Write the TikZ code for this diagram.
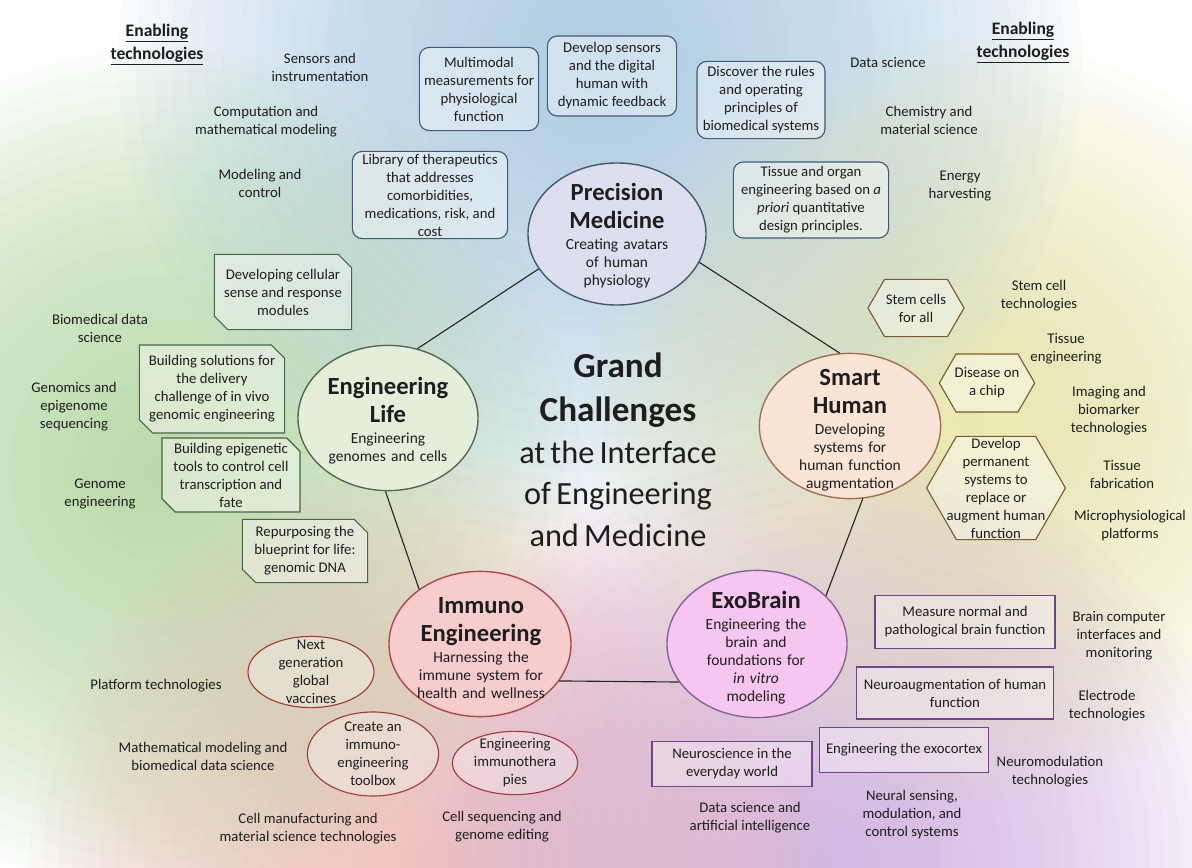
\documentclass[tikz,border=0pt]{standalone}
\usepackage{fontspec}
\setmainfont{Carlito}
\usetikzlibrary{shapes.geometric,shapes.misc,shapes.symbols}

\definecolor{inktext}{RGB}{30,30,30}
\definecolor{pmline}{RGB}{70,88,112}
\definecolor{pmfill}{RGB}{221,223,238}
\definecolor{elline}{RGB}{84,104,84}
\definecolor{elfill}{RGB}{228,238,218}
\definecolor{shline}{RGB}{160,112,80}
\definecolor{shfill}{RGB}{250,228,214}
\definecolor{imline}{RGB}{176,72,72}
\definecolor{imfill}{RGB}{246,204,204}
\definecolor{ebline}{RGB}{130,100,150}
\definecolor{ebfill}{RGB}{246,198,240}
\definecolor{pmboxline}{RGB}{66,88,118}
\definecolor{elboxline}{RGB}{72,100,72}
\definecolor{shboxline}{RGB}{122,90,48}
\definecolor{imboxline}{RGB}{160,60,60}
\definecolor{ebboxline}{RGB}{104,72,136}
\definecolor{bgblue}{RGB}{166,200,228}
\definecolor{bgyellow}{RGB}{234,232,165}
\definecolor{bggreen}{RGB}{180,216,160}
\definecolor{bgpink}{RGB}{241,187,180}
\definecolor{bglav}{RGB}{207,173,228}

\newcommand\techsize{\fontsize{10.5}{12.8}\selectfont}
\newcommand\subsize{\fontsize{11}{12.8}\selectfont}
\newcommand\headsize{\fontsize{17.5}{20}\selectfont\bfseries}
\newcommand\grandbold{\fontsize{25}{31}\selectfont\bfseries}
\newcommand\grandreg{\fontsize{23}{29.8}\selectfont}

\tikzset{
    tech-text/.style = {align=center, font=\techsize, text=inktext, inner sep=0pt},
    enabling/.style = {align=center, font=\fontsize{12.5}{16.3}\selectfont\bfseries, text=inktext, inner sep=0pt},
    wash/.style = {fill=#1, fill opacity=.055},
    main-ellipse/.style = {ellipse, line width=1pt, inner sep=0pt},
    main-text/.style = {text width=4.2cm, align=center, font=\subsize, text=inktext, inner sep=0pt},
    pm-box/.style = {draw=pmboxline, fill=white, fill opacity=.4, text opacity=1, rounded corners=7pt, line width=.8pt, align=center, font=\techsize, text=inktext, inner sep=1pt},
    el-box/.style = {chamfered rectangle, chamfered rectangle corners={north east,south west}, chamfered rectangle xsep=.22cm, draw=elboxline, fill=white, fill opacity=.4, text opacity=1, line width=.8pt, align=center, font=\techsize, text=inktext, inner sep=0pt},
    sh-hex/.style = {signal, signal to=west and east, signal pointer angle=120, draw=shboxline, fill=white, fill opacity=.4, text opacity=1, line width=.8pt, align=center, font=\techsize, text=inktext, inner ysep=0pt},
    im-oval/.style = {ellipse, draw=imboxline, fill=white, fill opacity=.3, line width=.8pt, inner sep=0pt},
    im-text/.style = {align=center, font=\techsize, text=inktext, inner sep=0pt},
    eb-box/.style = {rectangle, draw=ebboxline, fill=white, fill opacity=.35, text opacity=1, line width=.8pt, align=center, font=\techsize, text=inktext, inner sep=1pt},
    link/.style = {draw=black!85, line width=.8pt},
}

\begin{document}
\begin{tikzpicture}[x=0.025cm, y=-0.025cm]
\useasboundingbox (0,0) rectangle (1192,868);
\fill[white] (0,0) rectangle (1192,868);

% coloured wash behind everything
\foreach \k in {1,...,28} {
    \fill[wash=bggreen] (160,470) circle ({\k*15});
    \fill[wash=bgyellow] (970,420) circle ({\k*13.6});
    \fill[wash=bgblue] (600,60) circle ({\k*17.2});
    \fill[wash=bgpink] (430,860) circle ({\k*14.3});
    \fill[wash=bglav] (820,860) circle ({\k*15});
}

% the five grand challenges
\node[main-ellipse, draw=pmline, fill=pmfill, minimum width=4.45cm, minimum height=3.55cm] (pm) at (617,234) {};
\node[main-ellipse, draw=elline, fill=elfill, minimum width=4.5cm, minimum height=3.63cm] (el) at (388,418) {};
\node[main-ellipse, draw=shline, fill=shfill, minimum width=4.53cm, minimum height=3.63cm] (sh) at (850,426) {};
\node[main-ellipse, draw=imline, fill=imfill, minimum width=4.55cm, minimum height=3.63cm] (im) at (480,644) {};
\node[main-ellipse, draw=ebline, fill=ebfill, minimum width=4.5cm, minimum height=3.68cm] (eb) at (757,644) {};

\draw[link] (el.67) -- (pm.204);
\draw[link] (pm.-19) -- (sh.98);
\draw[link] (sh.-80) -- (eb.35);
\draw[link] (eb.206) -- (im.-25);
\draw[link] (im.138) -- (el.-92);

\node[main-text] (pm-t) at (617,236) {{\headsize Precision\\Medicine\par}\vskip2pt Creating avatars\\of human\\physiology\par};
\node[main-text] (el-t) at (388,421) {{\headsize Engineering\\Life\par}\vskip2pt Engineering\\genomes and cells\par};
\node[main-text] (sh-t) at (850,430) {{\headsize Smart\\Human\par}\vskip2pt Developing\\systems for\\human function\\augmentation\par};
\node[main-text] (im-t) at (481,648) {{\headsize Immuno\\Engineering\par}\vskip2pt Harnessing the\\immune system for\\health and wellness\par};
\node[main-text] (eb-t) at (756,648) {{\headsize ExoBrain\par}\vskip2pt Engineering the\\brain and\\foundations for\\\textit{in vitro}\\modeling\par};

\node[main-text, text width=6cm] (grand) at (618,450) {{\grandbold Grand\\Challenges\par}{\grandreg at the Interface\\of Engineering\\and Medicine\par}};

% Precision Medicine
\node[pm-box, minimum width=2.98cm, minimum height=2.08cm] (multimodal) at (479,89) {Multimodal\\measurements for\\physiological\\function};
\node[pm-box, minimum width=3.23cm, minimum height=2cm] (digital-human) at (612,76) {Develop sensors\\and the digital\\human with\\dynamic feedback};
\node[pm-box, minimum width=3.2cm, minimum height=1.93cm] (rules) at (761,100) {Discover the rules\\and operating\\principles of\\biomedical systems};
\node[pm-box, minimum width=3.88cm, minimum height=2.18cm] (library) at (430,195) {Library of therapeutics\\that addresses\\comorbidities,\\medications, risk, and\\cost};
\node[pm-box, minimum width=3.88cm, minimum height=1.9cm] (tissue-organ) at (811,200) {Tissue and organ\\engineering based on \textit{a}\\\textit{priori} quantitative\\design principles.};

% Engineering Life
\node[el-box, minimum width=3.43cm, minimum height=1.88cm] (sense) at (283,292) {Developing cellular\\sense and response\\modules};
\node[el-box, minimum width=3.63cm, minimum height=2.2cm] (delivery) at (212,389) {Building solutions for\\the delivery\\challenge of in vivo\\genomic engineering};
\node[el-box, minimum width=3.45cm, minimum height=1.85cm] (epigenetic) at (231,475) {Building epigenetic\\tools to control cell\\transcription and\\fate};
\node[el-box, minimum width=3.13cm, minimum height=1.58cm] (blueprint) at (305,551) {Repurposing the\\blueprint for life:\\genomic DNA};

% Smart Human
\node[sh-hex, minimum height=1.43cm, inner xsep=1pt] (stem-cells) at (916,308) {Stem cells\\for all};
\node[sh-hex, minimum height=1.45cm, inner xsep=-1pt] (chip) at (987,383) {Disease on\\a chip};
\node[sh-hex, minimum height=2.58cm, inner xsep=-7pt] (permanent) at (996,488) {Develop\\permanent\\systems to\\replace or\\augment human\\function};

% Immuno Engineering
\node[im-oval, minimum width=3.15cm, minimum height=1.78cm] (vaccines) at (311,672) {};
\node[im-text] (vaccines-t) at (vaccines) {Next\\generation\\global\\vaccines};
\node[im-oval, minimum width=3.28cm, minimum height=2.1cm] (toolbox) at (373,754) {};
\node[im-text] (toolbox-t) at (toolbox) {Create an\\immuno-\\engineering\\toolbox};
\node[im-oval, minimum width=3.13cm, minimum height=1.58cm] (immunotherapies) at (515,763) {};
\node[im-text] (immunotherapies-t) at (immunotherapies) {Engineering\\immunothera\\pies};

% ExoBrain
\node[eb-box, minimum width=4.5cm, minimum height=1.33cm] (measure) at (965,622) {Measure normal and\\pathological brain function};
\node[eb-box, minimum width=4.93cm, minimum height=1.3cm] (neuroaug) at (955,693) {Neuroaugmentation of human\\function};
\node[eb-box, minimum width=4.23cm, minimum height=1.13cm] (exocortex) at (904,750) {Engineering the exocortex};
\node[eb-box, minimum width=4cm, minimum height=1.13cm] (everyday) at (732,764) {Neuroscience in the\\everyday world};

% enabling technologies
\node[enabling] (enabling-l) at (157,45) {\underline{Enabling}\\\underline{technologies}};
\node[enabling] (enabling-r) at (1023,43) {\underline{Enabling}\\\underline{technologies}};
\node[tech-text] (sensors) at (320,67) {Sensors and\\instrumentation};
\node[tech-text] (computation) at (266,122) {Computation and\\mathematical modeling};
\node[tech-text] (mod-control) at (260,183) {Modeling and\\control};
\node[tech-text] (data-sci) at (888,62) {Data science};
\node[tech-text] (chemistry) at (929,120) {Chemistry and\\material science};
\node[tech-text] (energy) at (960,186) {Energy\\harvesting};
\node[tech-text] (biomed) at (100,328) {Biomedical data\\science};
\node[tech-text] (genomics) at (74,407) {Genomics and\\epigenome\\sequencing};
\node[tech-text] (genome-eng) at (100,494) {Genome\\engineering};
\node[tech-text] (stem-tech) at (1039,296) {Stem cell\\technologies};
\node[tech-text] (tissue-eng) at (1066,349) {Tissue\\engineering};
\node[tech-text] (imaging) at (1109,411) {Imaging and\\biomarker\\technologies};
\node[tech-text] (tissue-fab) at (1122,474) {Tissue\\fabrication};
\node[tech-text] (microphys) at (1130,526) {Microphysiological\\platforms};
\node[tech-text] (platform) at (156,686) {Platform technologies};
\node[tech-text] (math-mod) at (203,756) {Mathematical modeling and\\biomedical data science};
\node[tech-text] (cell-man) at (308,829) {Cell manufacturing and\\material science technologies};
\node[tech-text] (cell-seq) at (502,827) {Cell sequencing and\\genome editing};
\node[tech-text] (bci) at (1119,636) {Brain computer\\interfaces and\\monitoring};
\node[tech-text] (electrode) at (1107,706) {Electrode\\technologies};
\node[tech-text] (neuromod) at (1050,772) {Neuromodulation\\technologies};
\node[tech-text] (data-ai) at (750,818) {Data science and\\artificial intelligence};
\node[tech-text] (neural) at (912,815) {Neural sensing,\\modulation, and\\control systems};
\end{tikzpicture}
\end{document}
